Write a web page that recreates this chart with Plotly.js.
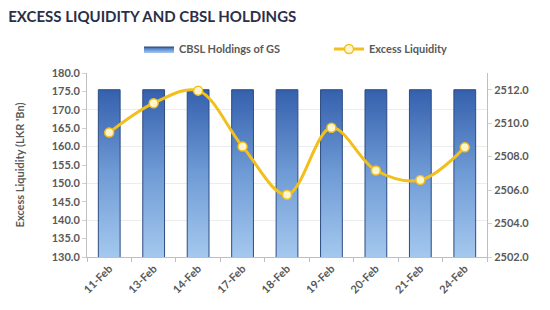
<!DOCTYPE html>
<html>
<head>
<meta charset="utf-8">
<script src="https://cdn.plot.ly/plotly-3.0.1.min.js"></script>
<style>html,body{margin:0;padding:0;background:#fff;}#chart{width:550px;height:310px;}</style>
</head>
<body>
<div id="chart"></div>
<script>
// Data
const dates = ['11-Feb','13-Feb','14-Feb','17-Feb','18-Feb','19-Feb','20-Feb','21-Feb','24-Feb'];
const cbslHoldings = [2512.0, 2512.0, 2512.0, 2512.0, 2512.0, 2512.0, 2512.0, 2512.0, 2512.0];
const excessLiquidity = [163.8, 171.8, 175.2, 160.0, 146.9, 165.1, 153.5, 150.9, 159.8];
const leftTicks = [130,135,140,145,150,155,160,165,170,175,180];
const leftGrid = [140,150,160,170];
const rightTicks = [2502,2504,2506,2508,2510,2512];

const idx = dates.map((d, i) => i);
const leftMin = 130, leftMax = 180;
const rightMin = 2502, rightMax = 2513;
const halfW = 0.245;

// Bars as gradient-filled shapes positioned on the library's axes
const bx = [], by = [];
cbslHoldings.forEach((v, i) => {
  bx.push(i - halfW, i - halfW, i + halfW, i + halfW, i - halfW, null);
  by.push(rightMin - 1, v, v, rightMin - 1, rightMin - 1, null);
});
// left-axis gridlines expressed on the right (primary) axis so they sit behind the bars
const gridOnRight = leftGrid.map(g => rightMin + (g - leftMin) * (rightMax - rightMin) / (leftMax - leftMin));

const fontFam = 'Lato, sans-serif';
const tickFont = {family: fontFam, size: 11, color: '#595959', weight: 700};

const traces = [
  {
    type: 'scatter', name: 'CBSL Holdings of GS', legend: 'legend',
    x: bx, y: by, yaxis: 'y', mode: 'lines', fill: 'toself',
    line: {color: '#2d4c80', width: 1},
    fillgradient: {type: 'vertical', colorscale: [[0, '#a4c8ee'], [0.5, '#6f9bd6'], [1, '#3560ad']], start: rightMin, stop: 2512},
    hoverinfo: 'skip'
  },
  {
    type: 'scatter', name: 'Excess Liquidity', legend: 'legend2',
    x: idx, y: excessLiquidity, yaxis: 'y2', mode: 'lines+markers',
    line: {color: '#f2bf1d', width: 3, shape: 'spline', smoothing: 1},
    marker: {symbol: 'circle', size: 9, color: '#fff6cf', line: {color: '#f2bf1d', width: 1.5}}
  }
];

const legendBase = {orientation: 'h', xanchor: 'left', yanchor: 'middle', yref: 'container', xref: 'container',
  font: {family: fontFam, size: 11, color: '#595959', weight: 700}, bgcolor: 'rgba(0,0,0,0)', itemwidth: 30};

const layout = {
  width: 550, height: 310,
  margin: {l: 87, r: 63, t: 73, b: 53},
  paper_bgcolor: '#ffffff', plot_bgcolor: '#ffffff',
  showlegend: true,
  title: {text: '<b>EXCESS LIQUIDITY AND CBSL HOLDINGS</b>', x: 0.015, xanchor: 'left', xref: 'container',
          y: 0.945, yanchor: 'middle', yref: 'container',
          font: {family: fontFam, size: 15, color: '#2b2f48'}},
  legend: Object.assign({}, legendBase, {x: 139 / 550, y: 1 - 49 / 310}),
  legend2: Object.assign({}, legendBase, {x: 329 / 550, y: 1 - 49 / 310}),
  xaxis: {
    type: 'linear', range: [-0.5, 8.5], tickvals: idx, ticktext: dates, tickangle: -45,
    tickfont: tickFont, ticks: '', showgrid: false, zeroline: false,
    showline: true, linecolor: '#bfbfbf', linewidth: 1,
    minor: {tickvals: idx.concat([9]).map(i => i - 0.5), ticks: 'outside', ticklen: 4, tickcolor: '#bfbfbf', showgrid: false}
  },
  yaxis: {
    side: 'right', range: [rightMin, rightMax], tickvals: rightTicks, tickformat: '.1f',
    tickfont: tickFont, ticks: 'outside', ticklen: 4, tickcolor: '#d0d0d0',
    showline: true, linecolor: '#bfbfbf', linewidth: 1, zeroline: false, showgrid: false,
    minor: {tickvals: gridOnRight, showgrid: true, gridcolor: '#ececec', gridwidth: 1, ticks: ''}
  },
  yaxis2: {
    overlaying: 'y', side: 'left', range: [leftMin, leftMax], tickvals: leftTicks, tickformat: '.1f',
    tickfont: tickFont, ticks: 'outside', ticklen: 4, tickcolor: '#d0d0d0',
    showline: true, linecolor: '#bfbfbf', linewidth: 1, zeroline: false, showgrid: false,
    title: {text: "Excess Liquidity (LKR 'Bn)", standoff: 24, font: {family: fontFam, size: 11, color: '#595959', weight: 700}}
  }
};

Plotly.newPlot('chart', traces, layout, {displayModeBar: false, staticPlot: true});
</script>
</body>
</html>
